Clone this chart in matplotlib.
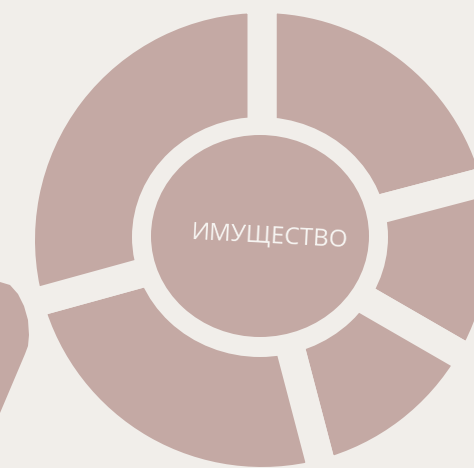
import matplotlib.pyplot as plt
from matplotlib.patches import Ellipse, Polygon

bg = '#f1eeea'
pink = '#c4a9a4'

# ring segments, degrees clockwise from the top
segments = [75.3, 44.7, 45.3, 89.3, 105.4]
label = 'ИМУЩЕСТВО'

# side blob on the left edge (pixel coords, y down)
blob_x = [0, 10, 18, 24, 28, 29, 28, 25, 0]
blob_y = [282, 285, 294, 306, 320, 335, 346, 354, 413]

W, H = 474, 468
gap = 29

fig = plt.figure(figsize=(4.74, 4.68), dpi=100)
fig.patch.set_facecolor(bg)
ax = fig.add_axes([0, 0, 1, 1])
ax.set_facecolor(bg)

lw = gap * 72 / 100
ax.pie(segments, radius=227 + gap / 2, center=(262, H - 240), startangle=90,
       counterclock=False, colors=[pink] * len(segments),
       wedgeprops=dict(edgecolor=bg, linewidth=lw, joinstyle='miter'))

ax.add_patch(Ellipse((260, H - 237), 256, 240, facecolor=bg, edgecolor='none', zorder=3))
ax.add_patch(Ellipse((260, H - 236), 218, 202, facecolor=pink, edgecolor='none', zorder=4))

pts = [(x, H - y) for x, y in zip(blob_x, blob_y)]
ax.add_patch(Polygon(pts, closed=True, facecolor=pink, edgecolor='none', zorder=5))

ax.text(270, H - 237, label, color='#f7f5f2', fontsize=17.5, family='Open Sans',
        rotation=-3, ha='center', va='center', zorder=6)

ax.set_xlim(0, W)
ax.set_ylim(0, H)
ax.set_aspect('auto')
ax.axis('off')

fig.savefig('out.png', dpi=100, facecolor=bg)
